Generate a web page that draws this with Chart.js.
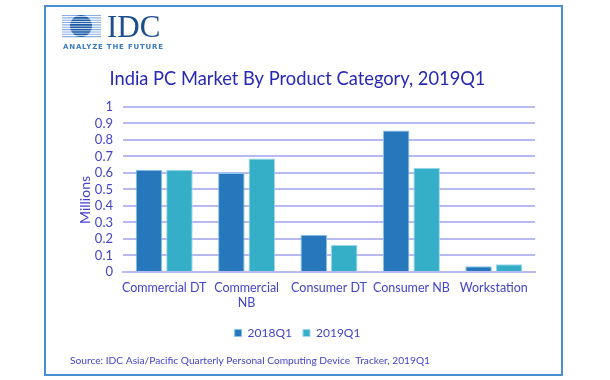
<!DOCTYPE html>
<html>
<head>
<meta charset="utf-8">
<script src="https://cdn.jsdelivr.net/npm/chart.js@4.4.1/dist/chart.umd.min.js"></script>
<style>
  html, body { margin: 0; padding: 0; background: #fff; }
  #wrap { width: 610px; height: 380px; position: relative; }
</style>
</head>
<body>
<div id="wrap"><canvas id="pcChart" width="610" height="380"></canvas></div>
<script>
// ===== DATA =====
const categories = [["Commercial DT"], ["Commercial", "NB"], ["Consumer DT"], ["Consumer NB"], ["Workstation"]];
const q1_2018 = [0.62, 0.60, 0.225, 0.858, 0.035];
const q1_2019 = [0.62, 0.688, 0.163, 0.632, 0.047];
const yTicks = [0, 0.1, 0.2, 0.3, 0.4, 0.5, 0.6, 0.7, 0.8, 0.9, 1];

const textBlue = "#4343cc";
const gridBlue = "#b9b9f2";
const FONT = "Lato, sans-serif";

// frame, IDC logo and source line
const decorations = {
    id: "decorations",
    afterDraw(chart) {
        const c = chart.ctx;
        c.save();

        // outer frame
        c.strokeStyle = "#4a8fd2";
        c.lineWidth = 2;
        c.strokeRect(45, 6, 517, 369);

        // striped globe
        const cx = 81, cy = 26, r = 11;
        for (let i = 0; i < 10; i++) {
            const y = 15.5 + i * 2.35;
            c.strokeStyle = "#86aee0";
            c.lineWidth = 1.1;
            c.beginPath();
            c.moveTo(62, y);
            c.lineTo(101, y);
            c.stroke();
        }
        c.save();
        c.beginPath();
        c.arc(cx, cy, r, 0, Math.PI * 2);
        c.clip();
        for (let i = 0; i < 10; i++) {
            const y = 15.5 + i * 2.35;
            c.strokeStyle = "#1f5ca6";
            c.lineWidth = 1.6;
            c.beginPath();
            c.moveTo(62, y);
            c.lineTo(101, y);
            c.stroke();
        }
        c.restore();

        c.fillStyle = "#1d4f8e";
        c.font = "31px 'Liberation Serif', serif";
        c.textBaseline = "alphabetic";
        c.fillText("IDC", 107, 37);

        c.fillStyle = "#3b7bbd";
        c.font = "bold 7px 'DejaVu Sans', sans-serif";
        c.letterSpacing = "0.8px";
        c.fillText("ANALYZE THE FUTURE", 63, 49);
        c.letterSpacing = "0px";

        // source
        c.fillStyle = textBlue;
        c.font = "10.2px " + FONT;
        c.textBaseline = "middle";
        c.fillText("Source: IDC Asia/Pacific Quarterly Personal Computing Device  Tracker, 2019Q1", 70, 361);

        c.restore();
    }
};

const ctx = document.getElementById("pcChart").getContext("2d");

const pcChart = new Chart(ctx, {
    type: "bar",
    data: {
        labels: categories,
        datasets: [{
            label: "2018Q1",
            data: q1_2018,
            backgroundColor: "#2677bb",
            borderColor: "#86c6e6",
            borderWidth: 1,
        }, {
            label: "2019Q1",
            data: q1_2019,
            backgroundColor: "#35aec8",
            borderColor: "#9ad8ea",
            borderWidth: 1,
        }]
    },
    options: {
        responsive: false,
        animation: false,
        categoryPercentage: 0.74,
        barPercentage: 0.87,
        layout: { padding: { left: 60, right: 75, top: 68, bottom: 31 } },
        plugins: {
            title: {
                display: true,
                text: "India PC Market By Product Category, 2019Q1",
                color: "#2727b8",
                font: { family: FONT, size: 18.3, weight: "normal" },
                padding: { top: 0, bottom: 17 },
            },
            legend: {
                position: "bottom",
                labels: {
                    color: textBlue,
                    boxWidth: 7,
                    boxHeight: 7,
                    padding: 11,
                    font: { family: FONT, size: 12 },
                },
            },
            tooltip: { enabled: false },
        },
        scales: {
            x: {
                grid: { display: false, drawTicks: false },
                border: { color: gridBlue, width: 2 },
                ticks: {
                    color: textBlue,
                    padding: 8,
                    maxRotation: 0,
                    autoSkip: false,
                    font: { family: FONT, size: 12.5, lineHeight: 1.25 },
                },
                afterFit(scale) { scale.height = 44; },
            },
            y: {
                min: 0,
                max: 1,
                afterBuildTicks(scale) { scale.ticks = yTicks.map(v => ({ value: v })); },
                grid: { color: gridBlue, lineWidth: 2, drawTicks: false },
                border: { display: false },
                ticks: {
                    color: textBlue,
                    padding: 10,
                    autoSkip: false,
                    callback: v => String(Math.round(v * 10) / 10),
                    font: { family: FONT, size: 13 },
                },
                title: {
                    display: true,
                    text: "Millions\u2002\u2002\u2002",
                    color: textBlue,
                    padding: { top: 17, bottom: 0 },
                    font: { family: FONT, size: 14 },
                },
                afterFit(scale) { scale.width = 63; },
            }
        }
    },
    plugins: [decorations]
});
</script>
</body>
</html>
